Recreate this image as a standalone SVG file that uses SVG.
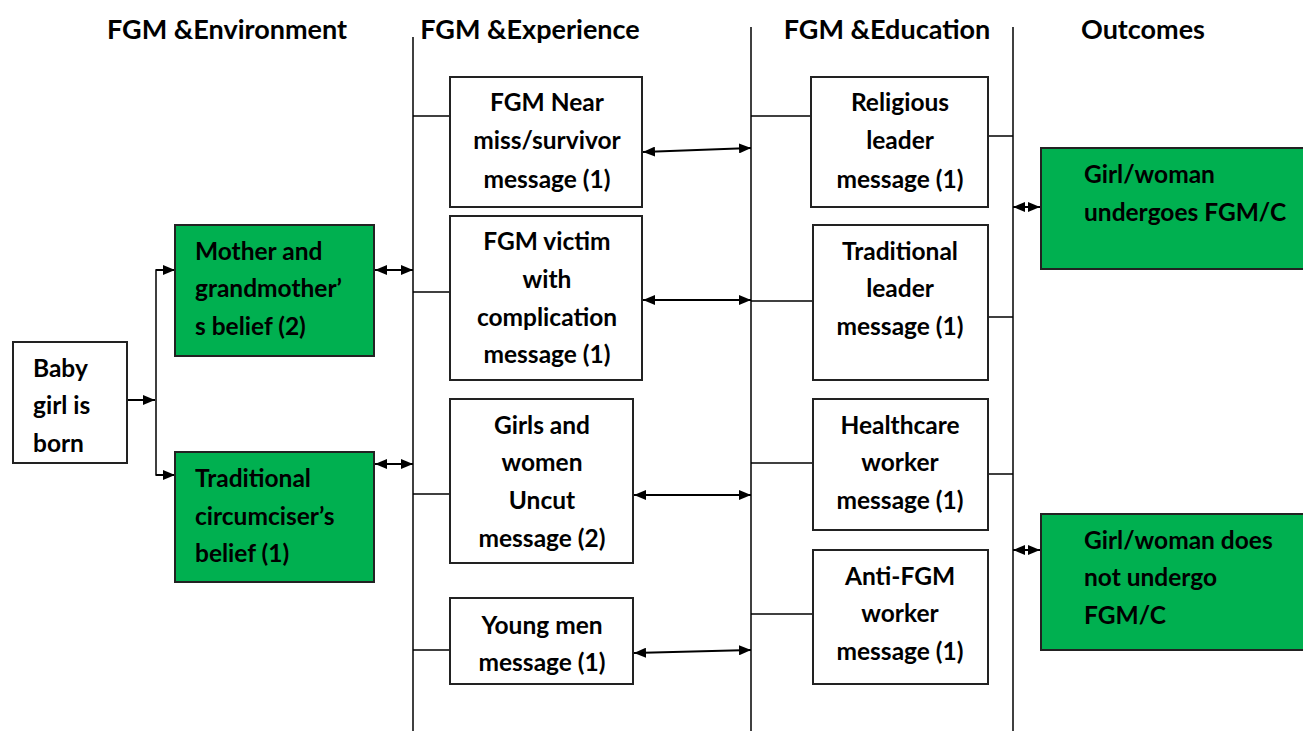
<svg xmlns="http://www.w3.org/2000/svg" width="1303" height="731" viewBox="0 0 1303 731">
<defs>
<marker id="ah" viewBox="0 0 12 10" refX="12" refY="5" markerWidth="12" markerHeight="10" markerUnits="userSpaceOnUse" orient="auto-start-reverse">
<path d="M0,0 L12,5 L0,10 z" fill="#000"/>
</marker>
<style>
.t{font-family:Lato,"Liberation Sans",sans-serif;font-weight:bold;font-size:24.5px;fill:#000}
.h{font-size:27px}
.c{text-anchor:middle}
.box{fill:#fff;stroke:#222;stroke-width:2}
.g{fill:#00B050;stroke:#222;stroke-width:2}
.ln{stroke:#000;stroke-width:1.5;fill:none}
.ar{stroke:#000;stroke-width:2;fill:none;marker-end:url(#ah)}
.da{stroke:#000;stroke-width:2;fill:none;marker-end:url(#ah);marker-start:url(#ah)}
</style>
</defs>
<rect width="1303" height="731" fill="#fff"/>
<g id="headers">
<text class="t h c" x="227" y="39">FGM &amp;Environment</text>
<text class="t h c" x="530" y="39">FGM &amp;Experience</text>
<text class="t h c" x="887" y="39">FGM &amp;Education</text>
<text class="t h c" x="1143" y="39">Outcomes</text>
</g>
<g id="connectors">
<line class="ln" x1="413" y1="37" x2="413" y2="731"/>
<line class="ln" x1="751" y1="27" x2="751" y2="731"/>
<line class="ln" x1="1013" y1="27" x2="1013" y2="731"/>
<line class="ar" x1="127" y1="400" x2="155" y2="400"/>
<polyline class="ln" points="175,270 156,270 156,475 175,475"/>
<line class="ar" x1="156" y1="270" x2="175" y2="270"/>
<line class="ar" x1="156" y1="475" x2="175" y2="475"/>
<line class="da" x1="375" y1="270" x2="413" y2="270"/>
<line class="da" x1="375" y1="464" x2="413" y2="464"/>
<line class="ln" x1="413" y1="116" x2="450" y2="116"/>
<line class="ln" x1="413" y1="292" x2="450" y2="292"/>
<line class="ln" x1="413" y1="494" x2="450" y2="494"/>
<line class="ln" x1="413" y1="650" x2="450" y2="650"/>
<line class="da" x1="643" y1="152" x2="751" y2="148"/>
<line class="da" x1="643" y1="300" x2="751" y2="300"/>
<line class="da" x1="634" y1="495" x2="751" y2="495"/>
<line class="da" x1="634" y1="653" x2="751" y2="650"/>
<line class="ln" x1="751" y1="116" x2="811" y2="116"/>
<line class="ln" x1="751" y1="301" x2="813" y2="301"/>
<line class="ln" x1="751" y1="463" x2="813" y2="463"/>
<line class="ln" x1="751" y1="614" x2="813" y2="614"/>
<line class="ln" x1="988" y1="136" x2="1013" y2="136"/>
<line class="ln" x1="988" y1="317" x2="1013" y2="317"/>
<line class="ln" x1="988" y1="474" x2="1013" y2="474"/>
<line class="da" x1="1013" y1="207" x2="1040" y2="207"/>
<line class="da" x1="1013" y1="550" x2="1040" y2="550"/>
</g>
<g id="baby">
<rect class="box" x="13" y="342" width="114" height="121"/>
<text class="t" x="33" y="377">Baby</text>
<text class="t" x="33" y="414">girl is</text>
<text class="t" x="33" y="452">born</text>
</g>
<g id="mother">
<rect class="g" x="175" y="225" width="199" height="131"/>
<text class="t" x="195" y="260">Mother and</text>
<text class="t" x="195" y="297">grandmother’</text>
<text class="t" x="195" y="335">s belief (2)</text>
</g>
<g id="circumciser">
<rect class="g" x="175" y="452" width="199" height="130"/>
<text class="t" x="195" y="487">Traditional</text>
<text class="t" x="195" y="525">circumciser’s</text>
<text class="t" x="195" y="562">belief (1)</text>
</g>
<g id="nearmiss">
<rect class="box" x="450" y="77" width="192" height="130"/>
<text class="t c" x="547" y="111">FGM Near</text>
<text class="t c" x="547" y="149">miss/survivor</text>
<text class="t c" x="547" y="188">message (1)</text>
</g>
<g id="victim">
<rect class="box" x="450" y="216" width="192" height="164"/>
<text class="t c" x="547" y="250">FGM victim</text>
<text class="t c" x="547" y="288">with</text>
<text class="t c" x="547" y="326">complication</text>
<text class="t c" x="547" y="363">message (1)</text>
</g>
<g id="uncut">
<rect class="box" x="450" y="399" width="183" height="164"/>
<text class="t c" x="542" y="434">Girls and</text>
<text class="t c" x="542" y="471">women</text>
<text class="t c" x="542" y="509">Uncut</text>
<text class="t c" x="542" y="547">message (2)</text>
</g>
<g id="youngmen">
<rect class="box" x="450" y="598" width="183" height="86"/>
<text class="t c" x="542" y="634">Young men</text>
<text class="t c" x="542" y="671">message (1)</text>
</g>
<g id="religious">
<rect class="box" x="811" y="77" width="177" height="130"/>
<text class="t c" x="900" y="111">Religious</text>
<text class="t c" x="900" y="149">leader</text>
<text class="t c" x="900" y="188">message (1)</text>
</g>
<g id="tradleader">
<rect class="box" x="813" y="225" width="175" height="155"/>
<text class="t c" x="900" y="260">Traditional</text>
<text class="t c" x="900" y="297">leader</text>
<text class="t c" x="900" y="335">message (1)</text>
</g>
<g id="healthcare">
<rect class="box" x="813" y="399" width="175" height="131"/>
<text class="t c" x="900" y="434">Healthcare</text>
<text class="t c" x="900" y="471">worker</text>
<text class="t c" x="900" y="509">message (1)</text>
</g>
<g id="antifgm">
<rect class="box" x="813" y="550" width="175" height="134"/>
<text class="t c" x="900" y="585">Anti-FGM</text>
<text class="t c" x="900" y="622">worker</text>
<text class="t c" x="900" y="660">message (1)</text>
</g>
<g id="undergoes">
<rect class="g" x="1041" y="148" width="270" height="121"/>
<text class="t" x="1084" y="183">Girl/woman</text>
<text class="t" x="1084" y="221">undergoes FGM/C</text>
</g>
<g id="doesnot">
<rect class="g" x="1041" y="514" width="270" height="136"/>
<text class="t" x="1084" y="549">Girl/woman does</text>
<text class="t" x="1084" y="586">not undergo</text>
<text class="t" x="1084" y="624">FGM/C</text>
</g>
</svg>
